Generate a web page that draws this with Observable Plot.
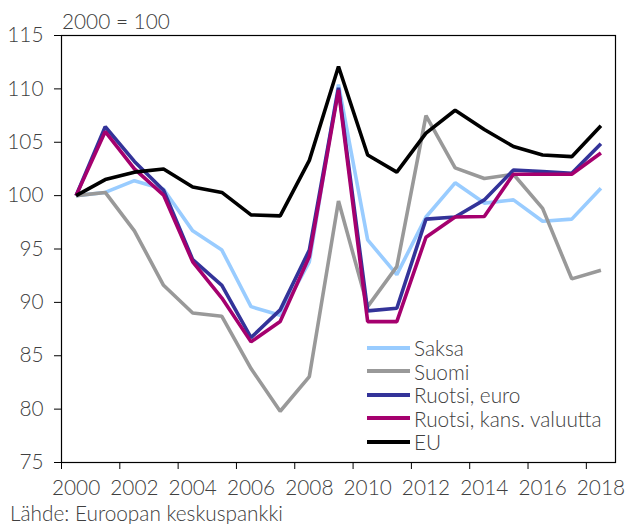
<!DOCTYPE html>
<html><head><meta charset="utf-8">
<script src="https://cdn.jsdelivr.net/npm/d3@7"></script>
<script src="https://cdn.jsdelivr.net/npm/@observablehq/plot@0.6"></script>
<style>
body{margin:0;background:#fff;}
#wrap{position:relative;width:625px;height:524px;font-family:"Lato Light",Lato,sans-serif;font-weight:300;color:#404040;background:#fff;overflow:hidden;}
#wrap svg{display:block;}
.ov{position:absolute;font-size:20.8px;line-height:1.2;white-space:nowrap;}
#legend{position:absolute;left:367px;top:336px;font-size:20.8px;}
#legend .row{display:flex;align-items:center;height:23.5px;}
#legend .sw{width:43px;height:4px;margin-right:4px;}
</style></head><body><div id="wrap"></div>
<script>
const years = [2000,2001,2002,2003,2004,2005,2006,2007,2008,2009,2010,2011,2012,2013,2014,2015,2016,2017,2018];
const saksa = [100,100.3,101.4,100.6,96.7,94.9,89.6,88.8,93.8,110.4,95.85,92.6,98.0,101.2,99.3,99.6,97.6,97.8,100.7];
const suomi = [100,100.3,96.7,91.6,89.0,88.7,83.8,79.8,83.05,99.5,89.6,93.35,107.5,102.6,101.6,102.0,98.8,92.2,93.0];
const ruotsiEuro = [100,106.45,103.2,100.5,94.0,91.6,86.7,89.3,94.9,110.1,89.2,89.45,97.8,98.0,99.6,102.4,102.25,102.1,104.85];
const ruotsiKans = [100,106.0,102.5,100.05,93.8,90.4,86.3,88.2,94.3,109.9,88.2,88.2,96.1,98.0,98.05,102.0,102.0,102.0,104.0];
const eu = [100,101.5,102.2,102.5,100.8,100.3,98.2,98.1,103.3,112.1,103.8,102.2,105.85,108.0,106.2,104.6,103.8,103.65,106.55];
const seriesNames = ["Saksa","Suomi","Ruotsi, euro","Ruotsi, kans. valuutta","EU"];
const seriesColors = ["#99CCFF","#999999","#333399","#A5006E","#000000"];
const yTicks = [75,80,85,90,95,100,105,110,115];
const xLabelYears = [2000,2002,2004,2006,2008,2010,2012,2014,2016,2018];
const yLabel = "2000 = 100";
const source = "Lähde: Euroopan keskuspankki";

const allSeries = [saksa, suomi, ruotsiEuro, ruotsiKans, eu];
const rows = allSeries.flatMap((s, k) => years.map((yr, i) => ({year: yr, value: s[i], name: seriesNames[k]})));
const xTickMarks = xLabelYears.map(y => y - 0.5);

const chart = Plot.plot({
  width: 625, height: 500,
  marginLeft: 61, marginRight: 10, marginTop: 35, marginBottom: 38,
  style: {fontFamily: "'Lato Light', Lato, sans-serif", fontSize: "20.8px", fontWeight: 300, color: "#404040", background: "white", overflow: "visible"},
  x: {domain: [1999.5, 2018.5]},
  y: {domain: [75, 115]},
  color: {domain: seriesNames, range: seriesColors},
  marks: [
    Plot.axisY(yTicks, {tickSize: 7, tickPadding: 11, label: null, stroke: "#000", fill: "#404040"}),
    Plot.axisX(xTickMarks, {tickSize: 7, tickFormat: () => "", label: null, stroke: "#000"}),
    Plot.axisX(xLabelYears, {tickSize: 0, tickPadding: 18, label: null, tickFormat: d => String(d), fill: "#404040"}),
    Plot.line(rows, {x: "year", y: "value", z: "name", stroke: "name", strokeWidth: 3.6, strokeLinejoin: "miter", strokeLinecap: "butt"}),
    Plot.frame({stroke: "#000", strokeWidth: 1.2})
  ]
});
const wrap = document.getElementById("wrap");
wrap.appendChild(chart);

const t = document.createElement("div");
t.className = "ov"; t.style.left = "62px"; t.style.top = "9px"; t.textContent = yLabel;
wrap.appendChild(t);

const c = document.createElement("div");
c.className = "ov"; c.style.left = "10px"; c.style.top = "501px"; c.textContent = source;
wrap.appendChild(c);

const lg = document.createElement("div");
lg.id = "legend";
seriesNames.forEach((n, i) => {
  const r = document.createElement("div"); r.className = "row";
  const sw = document.createElement("span"); sw.className = "sw"; sw.style.background = seriesColors[i];
  const tx = document.createElement("span"); tx.textContent = n;
  r.appendChild(sw); r.appendChild(tx); lg.appendChild(r);
});
wrap.appendChild(lg);
</script></body></html>
